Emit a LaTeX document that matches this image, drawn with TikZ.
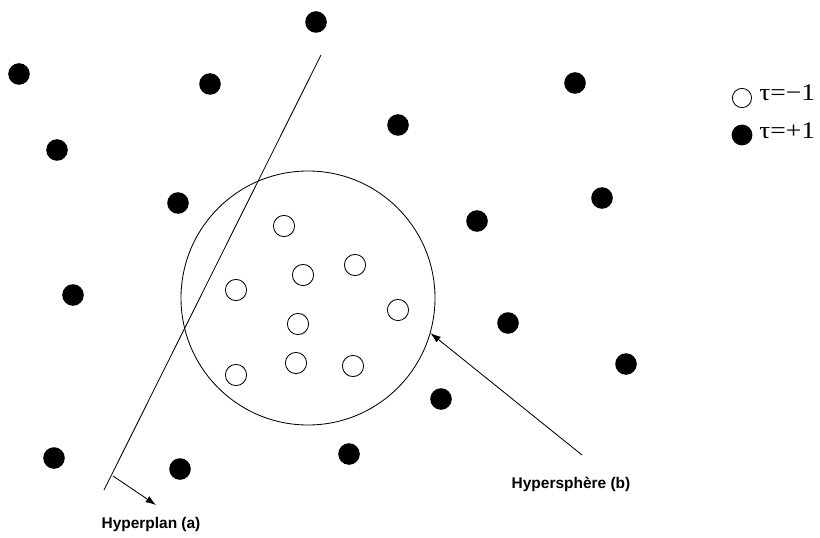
\documentclass[tikz,border=0pt]{standalone}
\usepackage{fontspec}
\usepackage{graphicx}
\setmainfont{Liberation Serif}
\newfontfamily\etiqfont{Liberation Sans}
\usetikzlibrary{arrows.meta}
\tikzstyle{every node}=[inner sep=0pt]
\tikzstyle{plein}=[circle, fill=black, minimum size=5.4mm]
\tikzstyle{vide}=[circle, draw, line width=0.6pt, minimum size=5.3mm]
\tikzstyle{etiq}=[font=\etiqfont\bfseries\fontsize{11}{13}\selectfont]
\tikzstyle{legende}=[anchor=west, font=\fontsize{17}{19}\selectfont]
\tikzstyle{fleche}=[-{Latex[length=2.6mm, width=1.8mm]}, line width=0.6pt]

\begin{document}
\begin{tikzpicture}[x=0.25mm, y=-0.25mm]
    \useasboundingbox (0,0) rectangle (820,538);
	% points tau=+1
	\node	[plein]	(P1)  at (316,22)	{};
	\node	[plein]	(P2)  at (19,74)	{};
	\node	[plein]	(P3)  at (210,84)	{};
	\node	[plein]	(P4)  at (575,83)	{};
	\node	[plein]	(P5)  at (398,125)	{};
	\node	[plein]	(P6)  at (57,150)	{};
	\node	[plein]	(P7)  at (602,198)	{};
	\node	[plein]	(P8)  at (178,203)	{};
	\node	[plein]	(P9)  at (477,221)	{};
	\node	[plein]	(P10) at (73,295)	{};
	\node	[plein]	(P11) at (508,323)	{};
	\node	[plein]	(P12) at (626,364)	{};
	\node	[plein]	(P13) at (441,399)	{};
	\node	[plein]	(P14) at (54,458)	{};
	\node	[plein]	(P15) at (180,469)	{};
	\node	[plein]	(P16) at (349,454)	{};
	% points tau=-1
	\node	[vide]	(V1)  at (284,226)	{};
	\node	[vide]	(V2)  at (303,275)	{};
	\node	[vide]	(V3)  at (355,265)	{};
	\node	[vide]	(V4)  at (236,290)	{};
	\node	[vide]	(V5)  at (398,310)	{};
	\node	[vide]	(V6)  at (298,324)	{};
	\node	[vide]	(V7)  at (296,363)	{};
	\node	[vide]	(V8)  at (353,366)	{};
	\node	[vide]	(V9)  at (236,375)	{};
	% hypersphere
	\node	[circle, draw, line width=0.6pt, minimum size=63.5mm]	(sphere) at (308,298) {};
	\coordinate	(hsFoot) at (582,455);
	\node	[etiq]	(hsLabel) at (571,484)	{Hypersph\`ere (b)};
	\draw[fleche] (hsFoot)--(sphere.-16);
	% hyperplan
	\coordinate	(hpTop) at (321,55);
	\coordinate	(hpBot) at (104,490);
	\coordinate	(hpFoot) at (113,476);
	\coordinate	(hpTip) at (156,505);
	\draw[line width=0.6pt] (hpTop)--(hpBot);
	\draw[fleche] (hpFoot)--(hpTip);
	\node	[etiq]	(hpLabel) at (151,524)	{Hyperplan (a)};
	% legende
	\node	[vide, minimum size=4.8mm]	(Lvide)  at (742,98)	{};
	\node	[plein, minimum size=5.2mm]	(Lplein) at (742,135)	{};
	\node	[legende]	(Tvide)  at (759,93)	{\scalebox{1.15}[1]{τ=−1}};
	\node	[legende]	(Tplein) at (759,131)	{\scalebox{1.15}[1]{τ=+1}};
\end{tikzpicture}
\end{document}
